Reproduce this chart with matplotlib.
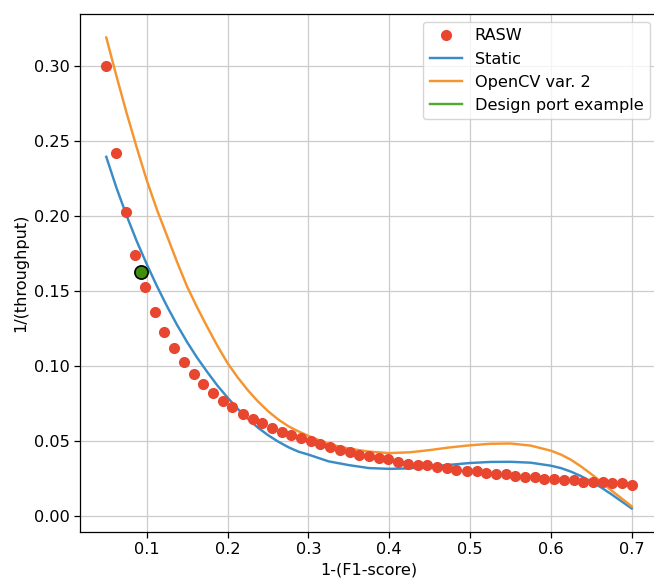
import matplotlib
matplotlib.use("Agg")
import matplotlib.pyplot as plt

# RASW measurements: 1-(F1-score) vs 1/(throughput)
rasw_x = [0.050, 0.062, 0.074, 0.086, 0.098, 0.110, 0.122, 0.134, 0.146, 0.158,
          0.170, 0.182, 0.194, 0.206, 0.219, 0.231, 0.243, 0.255, 0.267, 0.279,
          0.291, 0.303, 0.315, 0.327, 0.339, 0.351, 0.363, 0.375, 0.387, 0.399,
          0.411, 0.423, 0.435, 0.447, 0.459, 0.471, 0.483, 0.496, 0.508, 0.520,
          0.532, 0.544, 0.556, 0.568, 0.580, 0.592, 0.604, 0.616, 0.628, 0.640,
          0.652, 0.664, 0.676, 0.688, 0.700]
rasw_y = [0.300, 0.242, 0.203, 0.174, 0.153, 0.136, 0.123, 0.112, 0.103, 0.095,
          0.088, 0.082, 0.077, 0.073, 0.068, 0.065, 0.062, 0.059, 0.056, 0.054,
          0.052, 0.050, 0.048, 0.046, 0.044, 0.043, 0.041, 0.040, 0.039, 0.038,
          0.036, 0.035, 0.034, 0.034, 0.033, 0.032, 0.031, 0.030, 0.030, 0.029,
          0.028, 0.028, 0.027, 0.026, 0.026, 0.025, 0.025, 0.024, 0.024, 0.023,
          0.023, 0.023, 0.022, 0.022, 0.021]

# fitted curves
fit_x = [0.050, 0.0625, 0.075, 0.0875, 0.100, 0.1125, 0.125, 0.1375, 0.150, 0.1625,
         0.175, 0.1875, 0.200, 0.2125, 0.225, 0.2375, 0.250, 0.2625, 0.275, 0.2875,
         0.300, 0.325, 0.350, 0.375, 0.400, 0.425, 0.450, 0.475, 0.500, 0.525,
         0.550, 0.575, 0.600, 0.6125, 0.625, 0.6375, 0.650, 0.6625, 0.675, 0.6875,
         0.700]
static_y = [0.2395, 0.219, 0.2005, 0.1835, 0.168, 0.1535, 0.140, 0.1275, 0.116, 0.1055,
            0.096, 0.087, 0.079, 0.0715, 0.065, 0.059, 0.054, 0.0497, 0.046, 0.043,
            0.041, 0.0365, 0.034, 0.032, 0.0315, 0.0318, 0.0330, 0.0342, 0.0354, 0.0361,
            0.0362, 0.0356, 0.0336, 0.0320, 0.0296, 0.0266, 0.0230, 0.0190, 0.0145, 0.0098,
            0.0051]
opencv_y = [0.319, 0.2935, 0.269, 0.246, 0.224, 0.2045, 0.187, 0.1695, 0.153, 0.139,
            0.126, 0.1135, 0.102, 0.0925, 0.084, 0.0765, 0.070, 0.0645, 0.060, 0.0565,
            0.0535, 0.048, 0.045, 0.043, 0.042, 0.0425, 0.0440, 0.0458, 0.0472, 0.0482,
            0.0484, 0.0470, 0.0436, 0.0410, 0.0375, 0.0330, 0.0280, 0.0227, 0.0170, 0.0118,
            0.0065]

design_x = [0.093]
design_y = [0.163]

C_RASW, C_STATIC, C_OPENCV = "#e8462f", "#3a8cc6", "#f5952f"
C_DESIGN_LINE, C_DESIGN_PT = "#55a832", "#3f8f0c"
FS = 11.6

fig = plt.figure(figsize=(6.54, 5.8), dpi=100)
ax = fig.add_axes([80 / 654, 48 / 580, 578 / 654, 518 / 580])

ax.plot(rasw_x, rasw_y, "o", color=C_RASW, ms=7, zorder=3, label="RASW")
ax.plot(fit_x, static_y, color=C_STATIC, lw=1.75, label="Static")
ax.plot(fit_x, opencv_y, color=C_OPENCV, lw=1.75, label="OpenCV var. 2")
ax.plot(design_x, design_y, color=C_DESIGN_LINE, lw=1.75, label="Design port example")
ax.plot(design_x, design_y, "o", mfc=C_DESIGN_PT, mec="black", mew=1.2, ms=9.5, zorder=4)

ax.set_xlabel("1-(F1-score)", fontsize=FS)
ax.set_ylabel("1/(throughput)", fontsize=FS)
ax.tick_params(labelsize=FS, length=4, width=0.9)
for s in ax.spines.values():
    s.set_linewidth(0.9)
ax.grid(True, color="#cccccc", lw=0.9)
ax.legend(loc="upper right", fontsize=FS)

fig.savefig("out.png", dpi=100)
